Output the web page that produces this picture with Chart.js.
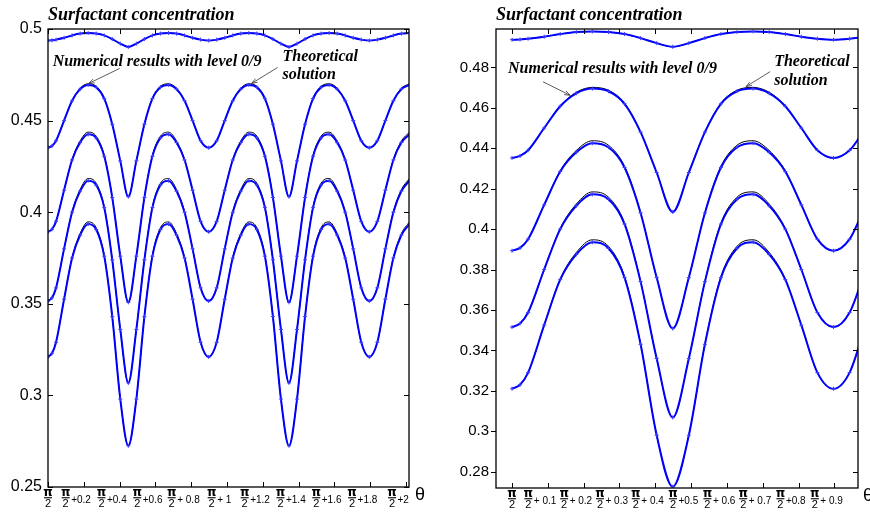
<!DOCTYPE html>
<html>
<head>
<meta charset="utf-8">
<script src="https://cdn.jsdelivr.net/npm/chart.js@4.4.1/dist/chart.umd.min.js"></script>
<style>
  html, body { margin: 0; padding: 0; background: #fff; }
  #wrap { position: relative; width: 870px; height: 512px; overflow: hidden; }
  canvas { position: absolute; top: 0; }
  #left { left: 0; }
  #right { left: 435px; }
</style>
</head>
<body>
<div id="wrap">
  <canvas id="left" width="435" height="512"></canvas>
  <canvas id="right" width="435" height="512"></canvas>
</div>
<script>
// sample positions, theta - pi/2
const theta = [0.0000, 0.0224, 0.0449, 0.0898, 0.1346, 0.1795, 0.2244, 0.2693, 0.3142, 0.3590, 0.4039,
  0.4488, 0.4937, 0.5386, 0.5834, 0.6283, 0.6732, 0.7181, 0.7630, 0.8078, 0.8527,
  0.8976, 0.9425, 0.9874, 1.0322, 1.0771, 1.1220, 1.1669, 1.2118, 1.2566, 1.3015,
  1.3464, 1.3913, 1.4362, 1.4810, 1.5259, 1.5708, 1.6157, 1.6606, 1.7054, 1.7503,
  1.7952, 1.8401, 1.8850, 1.9298, 1.9747, 2.0196];

// numerical results (level 0/9), one array per time level
const numerical1 = [0.4937, 0.4938, 0.4942, 0.4952, 0.4965, 0.4975, 0.4978, 0.4975, 0.4965, 0.4945, 0.4920,
  0.4902, 0.4920, 0.4945, 0.4965, 0.4975, 0.4978, 0.4975, 0.4965, 0.4952, 0.4942,
  0.4937, 0.4942, 0.4952, 0.4965, 0.4975, 0.4978, 0.4975, 0.4965, 0.4945, 0.4920,
  0.4902, 0.4920, 0.4945, 0.4965, 0.4975, 0.4978, 0.4975, 0.4965, 0.4952, 0.4942,
  0.4937, 0.4942, 0.4952, 0.4965, 0.4975, 0.4978];
const numerical2 = [0.4352, 0.4362, 0.4390, 0.4500, 0.4608, 0.4672, 0.4695, 0.4682, 0.4620, 0.4480, 0.4280,
  0.4085, 0.4280, 0.4480, 0.4620, 0.4682, 0.4695, 0.4672, 0.4608, 0.4500, 0.4390,
  0.4352, 0.4390, 0.4500, 0.4608, 0.4672, 0.4695, 0.4682, 0.4620, 0.4480, 0.4280,
  0.4085, 0.4280, 0.4480, 0.4620, 0.4682, 0.4695, 0.4672, 0.4608, 0.4500, 0.4390,
  0.4352, 0.4390, 0.4500, 0.4608, 0.4672, 0.4695];
const numerical3 = [0.3893, 0.3907, 0.3950, 0.4120, 0.4285, 0.4380, 0.4425, 0.4405, 0.4305, 0.4080, 0.3760,
  0.3508, 0.3760, 0.4080, 0.4305, 0.4405, 0.4425, 0.4380, 0.4285, 0.4120, 0.3950,
  0.3893, 0.3950, 0.4120, 0.4285, 0.4380, 0.4425, 0.4405, 0.4305, 0.4080, 0.3760,
  0.3508, 0.3760, 0.4080, 0.4305, 0.4405, 0.4425, 0.4380, 0.4285, 0.4120, 0.3950,
  0.3893, 0.3950, 0.4120, 0.4285, 0.4380, 0.4425];
const numerical4 = [0.3515, 0.3533, 0.3587, 0.3800, 0.4000, 0.4115, 0.4172, 0.4148, 0.4025, 0.3740, 0.3360,
  0.3068, 0.3360, 0.3740, 0.4025, 0.4148, 0.4172, 0.4115, 0.4000, 0.3800, 0.3587,
  0.3515, 0.3587, 0.3800, 0.4000, 0.4115, 0.4172, 0.4148, 0.4025, 0.3740, 0.3360,
  0.3068, 0.3360, 0.3740, 0.4025, 0.4148, 0.4172, 0.4115, 0.4000, 0.3800, 0.3587,
  0.3515, 0.3587, 0.3800, 0.4000, 0.4115, 0.4172];
const numerical5 = [0.3210, 0.3230, 0.3290, 0.3525, 0.3750, 0.3875, 0.3935, 0.3905, 0.3760, 0.3430, 0.2980,
  0.2725, 0.2980, 0.3430, 0.3760, 0.3905, 0.3935, 0.3875, 0.3750, 0.3525, 0.3290,
  0.3210, 0.3290, 0.3525, 0.3750, 0.3875, 0.3935, 0.3905, 0.3760, 0.3430, 0.2980,
  0.2725, 0.2980, 0.3430, 0.3760, 0.3905, 0.3935, 0.3875, 0.3750, 0.3525, 0.3290,
  0.3210, 0.3290, 0.3525, 0.3750, 0.3875, 0.3935];

// theoretical solution
const theoretical1 = numerical1;
const theoretical2 = [0.4352, 0.4362, 0.4390, 0.4500, 0.4610, 0.4677, 0.4701, 0.4687, 0.4623, 0.4480, 0.4280,
  0.4085, 0.4280, 0.4480, 0.4623, 0.4687, 0.4701, 0.4677, 0.4610, 0.4500, 0.4390,
  0.4352, 0.4390, 0.4500, 0.4610, 0.4677, 0.4701, 0.4687, 0.4623, 0.4480, 0.4280,
  0.4085, 0.4280, 0.4480, 0.4623, 0.4687, 0.4701, 0.4677, 0.4610, 0.4500, 0.4390,
  0.4352, 0.4390, 0.4500, 0.4610, 0.4677, 0.4701];
const theoretical3 = [0.3893, 0.3907, 0.3950, 0.4120, 0.4289, 0.4389, 0.4437, 0.4415, 0.4311, 0.4082, 0.3760,
  0.3508, 0.3760, 0.4082, 0.4311, 0.4415, 0.4437, 0.4389, 0.4289, 0.4120, 0.3950,
  0.3893, 0.3950, 0.4120, 0.4289, 0.4389, 0.4437, 0.4415, 0.4311, 0.4082, 0.3760,
  0.3508, 0.3760, 0.4082, 0.4311, 0.4415, 0.4437, 0.4389, 0.4289, 0.4120, 0.3950,
  0.3893, 0.3950, 0.4120, 0.4289, 0.4389, 0.4437];
const theoretical4 = [0.3515, 0.3533, 0.3587, 0.3800, 0.4004, 0.4124, 0.4184, 0.4158, 0.4031, 0.3742, 0.3360,
  0.3068, 0.3360, 0.3742, 0.4031, 0.4158, 0.4184, 0.4124, 0.4004, 0.3800, 0.3587,
  0.3515, 0.3587, 0.3800, 0.4004, 0.4124, 0.4184, 0.4158, 0.4031, 0.3742, 0.3360,
  0.3068, 0.3360, 0.3742, 0.4031, 0.4158, 0.4184, 0.4124, 0.4004, 0.3800, 0.3587,
  0.3515, 0.3587, 0.3800, 0.4004, 0.4124, 0.4184];
const theoretical5 = [0.3210, 0.3230, 0.3290, 0.3525, 0.3754, 0.3884, 0.3947, 0.3915, 0.3766, 0.3432, 0.2980,
  0.2725, 0.2980, 0.3432, 0.3766, 0.3915, 0.3947, 0.3884, 0.3754, 0.3525, 0.3290,
  0.3210, 0.3290, 0.3525, 0.3754, 0.3884, 0.3947, 0.3915, 0.3766, 0.3432, 0.2980,
  0.2725, 0.2980, 0.3432, 0.3766, 0.3915, 0.3947, 0.3884, 0.3754, 0.3525, 0.3290,
  0.3210, 0.3290, 0.3525, 0.3754, 0.3884, 0.3947];

// axis ticks
const leftXTicks = [0, 0.2, 0.4, 0.6, 0.8, 1, 1.2, 1.4, 1.6, 1.8, 2];
const leftXLabels = ['', '+0.2', '+0.4', '+0.6', '+ 0.8', '+ 1', '+1.2', '+1.4', '+1.6', '+1.8', '+2'];
const leftYTicks = [0.25, 0.3, 0.35, 0.4, 0.45, 0.5];
const leftYLabels = ['0.25', '0.3', '0.35', '0.4', '0.45', '0.5'];
const rightXTicks = [0, 0.1, 0.2, 0.3, 0.4, 0.5, 0.6, 0.7, 0.8, 0.9];
const rightXLabels = ['', '+ 0.1', '+ 0.2', '+ 0.3', '+ 0.4', '+0.5', '+ 0.6', '+ 0.7', '+0.8', '+ 0.9'];
const rightYTicks = [0.28, 0.3, 0.32, 0.34, 0.36, 0.38, 0.4, 0.42, 0.44, 0.46, 0.48];
const rightYLabels = ['0.28', '0.3', '0.32', '0.34', '0.36', '0.38', '0.4', '0.42', '0.44', '0.46', '0.48'];

const numerical = [numerical1, numerical2, numerical3, numerical4, numerical5];
const theoretical = [theoretical1, theoretical2, theoretical3, theoretical4, theoretical5];

const SANS = '"Liberation Sans", Arial, sans-serif';
const SERIF = '"Liberation Serif", "Times New Roman", serif';

function curveData(values) {
  return theta.map((t, i) => ({ x: t, y: values[i] }));
}

function buildDatasets() {
  const sets = [];
  numerical.forEach(v => sets.push({
    data: curveData(v),
    borderColor: '#0000ff',
    borderWidth: 2,
    pointStyle: 'cross',
    pointRadius: 2,
    pointBorderColor: '#3a3aff',
    pointBorderWidth: 1,
    cubicInterpolationMode: 'monotone',
    clip: 0,
    order: 0
  }));
  theoretical.forEach(v => sets.push({
    data: curveData(v),
    borderColor: '#000000',
    borderWidth: 1,
    pointRadius: 0,
    cubicInterpolationMode: 'monotone',
    clip: 0,
    order: 1
  }));
  return sets;
}

function drawArrow(ctx, x1, y1, x2, y2) {
  const ang = Math.atan2(y2 - y1, x2 - x1);
  ctx.beginPath();
  ctx.moveTo(x1, y1);
  ctx.lineTo(x2, y2);
  ctx.moveTo(x2 - 6 * Math.cos(ang - 0.35), y2 - 6 * Math.sin(ang - 0.35));
  ctx.lineTo(x2, y2);
  ctx.lineTo(x2 - 6 * Math.cos(ang + 0.35), y2 - 6 * Math.sin(ang + 0.35));
  ctx.stroke();
}

// frame, inward ticks, pi/2 tick labels, title and notes
const axesFrame = {
  id: 'axesFrame',
  afterDraw(chart, args, opts) {
    const { ctx, chartArea: a, scales: { x, y } } = chart;
    ctx.save();
    ctx.strokeStyle = '#000';
    ctx.fillStyle = '#000';

    ctx.lineWidth = 1;
    ctx.beginPath();
    opts.xTicks.forEach(v => {
      const px = Math.round(x.getPixelForValue(v)) + 0.5;
      ctx.moveTo(px, a.bottom); ctx.lineTo(px, a.bottom - 5);
      ctx.moveTo(px, a.top); ctx.lineTo(px, a.top + 5);
    });
    opts.yTicks.forEach(v => {
      const py = Math.round(y.getPixelForValue(v)) + 0.5;
      ctx.moveTo(a.left, py); ctx.lineTo(a.left + (opts.yTickOut ? -5 : 5), py);
      ctx.moveTo(a.right, py); ctx.lineTo(a.right - 5, py);
    });
    ctx.stroke();

    ctx.lineWidth = 1.3;
    ctx.strokeRect(a.left, a.top, a.right - a.left, a.bottom - a.top);

    // y tick labels
    ctx.font = opts.yFont;
    ctx.textAlign = 'right';
    ctx.textBaseline = 'middle';
    opts.yTicks.forEach((v, i) => {
      ctx.fillText(opts.yLabels[i], a.left - opts.yGap, y.getPixelForValue(v));
    });

    // x tick labels: pi over 2 plus offset
    const barY = a.bottom + 10.7;
    opts.xTicks.forEach((v, i) => {
      const tx = x.getPixelForValue(v);
      const suffix = opts.xLabels[i];
      ctx.font = '10px ' + SANS;
      const sw = suffix ? ctx.measureText(suffix).width : 0;
      const total = 8 + (suffix ? 1.5 + sw : 0);
      const start = suffix ? tx - 7.5 - total / 2 : tx - 4;
      const fc = start + 4;
      ctx.font = 'bold 12px "DejaVu Sans", ' + SANS;
      ctx.textAlign = 'center';
      ctx.textBaseline = 'alphabetic';
      ctx.fillText('\u03c0', fc, barY - 1.5);
      ctx.fillRect(fc - 4, barY - 0.5, 8, 1.1);
      ctx.font = '11px ' + SANS;
      ctx.textBaseline = 'top';
      ctx.fillText('2', fc, barY + 0.3);
      if (suffix) {
        ctx.font = '10px ' + SANS;
        ctx.textAlign = 'left';
        ctx.textBaseline = 'alphabetic';
        ctx.fillText(suffix, start + 9.5, barY + 5.3);
      }
    });

    // axis name
    ctx.font = '18px ' + SANS;
    ctx.textAlign = 'left';
    ctx.textBaseline = 'alphabetic';
    ctx.fillText('\u03b8', a.right + opts.thetaGap, a.bottom + 13);

    // title
    ctx.font = 'bold italic 18px ' + SERIF;
    ctx.fillText('Surfactant concentration', a.left, a.top - 9);

    // notes with arrows
    const n = opts.notes;
    ctx.font = 'bold italic 16px ' + SERIF;
    ctx.fillText('Numerical results with level 0/9', x.getPixelForValue(n.num[0]), y.getPixelForValue(n.num[1]));
    ctx.fillText('Theoretical', x.getPixelForValue(n.theo[0]), y.getPixelForValue(n.theo[1]));
    ctx.fillText('solution', x.getPixelForValue(n.theo[0]), y.getPixelForValue(n.theo[2]));
    ctx.strokeStyle = '#333';
    ctx.lineWidth = 0.8;
    [n.numArrow, n.theoArrow].forEach(ar => {
      drawArrow(ctx, x.getPixelForValue(ar[0]), y.getPixelForValue(ar[1]),
        x.getPixelForValue(ar[2]), y.getPixelForValue(ar[3]));
    });
    ctx.restore();
  }
};

function makeChart(id, cfg) {
  return new Chart(document.getElementById(id), {
    type: 'line',
    data: { datasets: buildDatasets() },
    options: {
      responsive: false,
      animation: false,
      events: [],
      layout: { autoPadding: false, padding: cfg.padding },
      plugins: {
        legend: { display: false },
        tooltip: { enabled: false },
        axesFrame: cfg.frame
      },
      scales: {
        x: {
          type: 'linear',
          min: cfg.xMin, max: cfg.xMax,
          ticks: { display: false },
          grid: { display: false },
          border: { display: false },
          afterFit: s => { s.height = cfg.xHeight; }
        },
        y: {
          type: 'linear',
          min: cfg.yMin, max: cfg.yMax,
          ticks: { display: false },
          grid: { display: false },
          border: { display: false },
          afterFit: s => { s.width = cfg.yWidth; }
        }
      }
    },
    plugins: [axesFrame]
  });
}

makeChart('left', {
  xMin: 0, xMax: 2.017, yMin: 0.25, yMax: 0.5,
  padding: { top: 29, right: 26, bottom: 0, left: 0 },
  xHeight: 25, yWidth: 48,
  frame: {
    xTicks: leftXTicks, xLabels: leftXLabels,
    yTicks: leftYTicks, yLabels: leftYLabels,
    yFont: '16px ' + SANS, yGap: 6, yTickOut: false, thetaGap: 6,
    notes: {
      num: [0.026, 0.4796],
      theo: [1.31, 0.4823, 0.4725],
      numArrow: [0.401, 0.4785, 0.228, 0.4703],
      theoArrow: [1.283, 0.4790, 1.138, 0.4703]
    }
  }
});

makeChart('right', {
  xMin: -0.0447, xMax: 0.966, yMin: 0.2719, yMax: 0.499,
  padding: { top: 29, right: 12, bottom: 0, left: 0 },
  xHeight: 24, yWidth: 61,
  frame: {
    xTicks: rightXTicks, xLabels: rightXLabels,
    yTicks: rightYTicks, yLabels: rightYLabels,
    yFont: '15px ' + SANS, yGap: 7, yTickOut: true, thetaGap: 5,
    notes: {
      num: [-0.011, 0.4774],
      theo: [0.732, 0.4808, 0.4714],
      numArrow: [0.0866, 0.4729, 0.162, 0.4662],
      theoArrow: [0.7207, 0.4779, 0.6536, 0.4705]
    }
  }
});
</script>
</body>
</html>
